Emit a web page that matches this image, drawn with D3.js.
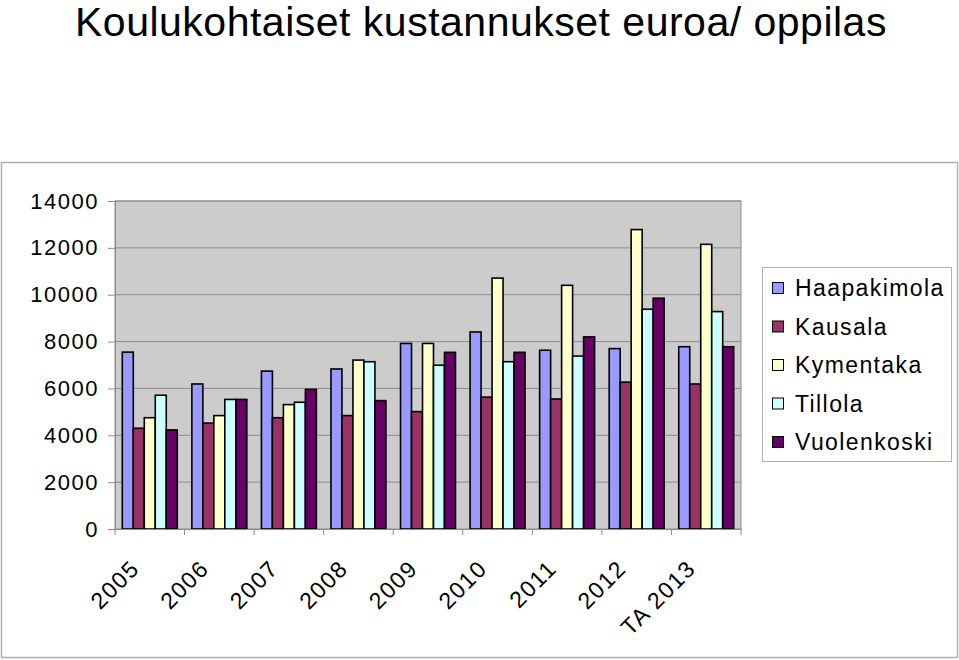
<!DOCTYPE html>
<html>
<head>
<meta charset="utf-8">
<script src="https://cdn.jsdelivr.net/npm/d3@7"></script>
<style>
  body { margin: 0; background: #fff; }
  text { font-family: "Liberation Sans", Arial, sans-serif; }
</style>
</head>
<body>
<svg id="chart" width="959" height="660"></svg>
<script>
// kustannukset euroa / oppilas
var years = ["2005", "2006", "2007", "2008", "2009", "2010", "2011", "2012", "TA 2013"];
var schools = ["Haapakimola", "Kausala", "Kymentaka", "Tillola", "Vuolenkoski"];
var haapakimola = [7550, 6190, 6740, 6830, 7920, 8410, 7630, 7700, 7780];
var kausala     = [4300, 4520, 4750, 4840, 5010, 5630, 5550, 6270, 6190];
var kymentaka   = [4750, 4840, 5310, 7210, 7920, 10710, 10400, 12780, 12150];
var tillola     = [5710, 5530, 5410, 7140, 6990, 7140, 7380, 9380, 9280];
var vuolenkoski = [4230, 5530, 5960, 5480, 7540, 7540, 8200, 9850, 7780];
var yTicks = [0, 2000, 4000, 6000, 8000, 10000, 12000, 14000];
var colors = ["#9999FF", "#993366", "#FFFFCC", "#CCFFFF", "#660066"];

var series = [haapakimola, kausala, kymentaka, tillola, vuolenkoski];

var svg = d3.select("#chart");

// title
svg.append("text")
    .attr("x", 75).attr("y", 36)
    .style("font-size", "41px")
    .style("letter-spacing", "0.5px")
    .text("Koulukohtaiset kustannukset euroa/ oppilas");

// chart frame
svg.append("rect")
    .attr("x", 1.5).attr("y", 162.5)
    .attr("width", 956).attr("height", 495)
    .attr("fill", "none").attr("stroke", "#b0b0b0").attr("stroke-width", 1.5);

var pLeft = 115, pRight = 741, pTop = 201, pBottom = 529;

var y = d3.scaleLinear().domain([0, 14000]).range([pBottom, pTop]);
var x0 = d3.scaleBand().domain(years).range([pLeft, pRight]);
var gap = x0.bandwidth() * 0.105;
var x1 = d3.scaleBand().domain(schools).range([gap, x0.bandwidth() - gap]);

// plot area
svg.append("rect")
    .attr("x", pLeft).attr("y", pTop)
    .attr("width", pRight - pLeft).attr("height", pBottom - pTop)
    .attr("fill", "#cccccc").attr("stroke", "#8c8c8c");

// gridlines
svg.append("g").selectAll("line")
    .data(yTicks.slice(1))
  .enter().append("line")
    .attr("x1", pLeft).attr("x2", pRight)
    .attr("y1", function(d) { return y(d); })
    .attr("y2", function(d) { return y(d); })
    .attr("stroke", "#8c8c8c");

// bars
var groups = svg.append("g").selectAll("g")
    .data(years)
  .enter().append("g")
    .attr("transform", function(d) { return "translate(" + x0(d) + ",0)"; });

groups.selectAll("rect")
    .data(function(d, i) { return schools.map(function(s, j) { return { s: s, j: j, v: series[j][i] }; }); })
  .enter().append("rect")
    .attr("x", function(d) { return x1(d.s); })
    .attr("width", x1.bandwidth())
    .attr("y", function(d) { return y(d.v); })
    .attr("height", function(d) { return pBottom - y(d.v); })
    .attr("fill", function(d) { return colors[d.j]; })
    .attr("stroke", "#000").attr("stroke-width", 1.6);

// y axis
var yAxis = svg.append("g")
    .attr("transform", "translate(" + pLeft + ",0)")
    .call(d3.axisLeft(y).tickValues(yTicks).tickSize(7).tickPadding(9).tickFormat(d3.format("d")));
yAxis.select(".domain").attr("stroke", "#8c8c8c");
yAxis.selectAll(".tick line").attr("stroke", "#8c8c8c");
yAxis.selectAll("text")
    .style("font-size", "22px")
    .style("letter-spacing", "1.5px")
    .attr("fill", "#000");

// x axis
var xAxis = svg.append("g")
    .attr("transform", "translate(0," + pBottom + ")")
    .call(d3.axisBottom(x0).tickSize(0).tickFormat(""));
xAxis.select(".domain").attr("stroke", "#8c8c8c");

svg.append("g").selectAll("line")
    .data(years.concat(["end"]))
  .enter().append("line")
    .attr("x1", function(d, i) { return pLeft + i * x0.step(); })
    .attr("x2", function(d, i) { return pLeft + i * x0.step(); })
    .attr("y1", pBottom).attr("y2", pBottom + 6)
    .attr("stroke", "#8c8c8c");

svg.append("g").selectAll("text")
    .data(years)
  .enter().append("text")
    .attr("transform", function(d) {
      return "translate(" + (x0(d) + x0.bandwidth() / 2 - 9) + "," + (pBottom + 41) + ") rotate(-45)";
    })
    .attr("text-anchor", "end")
    .style("font-size", "23px")
    .style("letter-spacing", "1.5px")
    .text(function(d) { return d; });

// legend
var legend = svg.append("g");
legend.append("rect")
    .attr("x", 762.5).attr("y", 267.5)
    .attr("width", 189).attr("height", 194)
    .attr("fill", "#fff").attr("stroke", "#b0b0b0");

var item = legend.selectAll(".item")
    .data(schools)
  .enter().append("g")
    .attr("class", "item")
    .attr("transform", function(d, i) { return "translate(772," + (288 + i * 38.5) + ")"; });

item.append("rect")
    .attr("x", 0.5).attr("y", -5.5)
    .attr("width", 11).attr("height", 11)
    .attr("fill", function(d, i) { return colors[i]; })
    .attr("stroke", "#000");

item.append("text")
    .attr("x", 23).attr("dy", "0.36em")
    .style("font-size", "23px")
    .style("letter-spacing", "1.4px")
    .text(function(d) { return d; });
</script>
</body>
</html>
